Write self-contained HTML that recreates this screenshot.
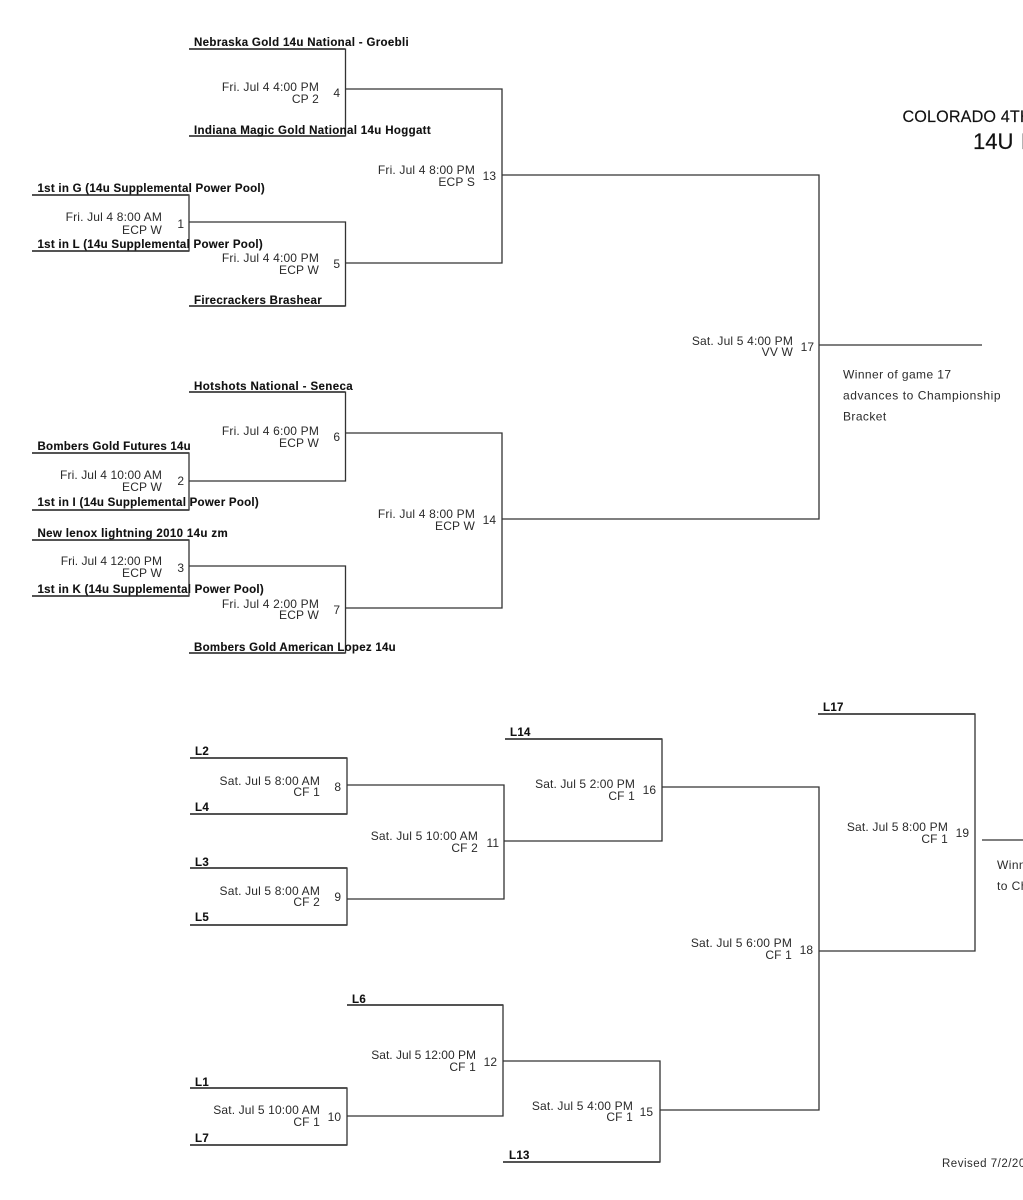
<!DOCTYPE html>
<html><head><meta charset="utf-8"><style>
html,body{margin:0;padding:0;background:#fff;width:1023px;height:1200px;overflow:hidden}
svg{display:block}
text{font-family:"Liberation Sans",sans-serif;fill:#2a2a2a}
.l{fill:none;stroke:#333;stroke-width:1.3}
.b{fill:none;stroke:#444;stroke-width:1.8}
.t{font-weight:bold;font-size:11.5px;fill:#111;letter-spacing:.3px;stroke:#111;stroke-width:.12px}
.s{font-size:12px;letter-spacing:.17px;text-anchor:end}
.n{font-size:12px;text-anchor:end}
.w{font-size:12px;letter-spacing:.42px}
</style></head><body>
<svg width="1023" height="1200" viewBox="0 0 1023 1200" xmlns="http://www.w3.org/2000/svg">
<g class="l">
<path d="M189 49H345.5V136H189"/>
<path d="M345.5 89H502V263H345.5"/>
<path d="M32 195H189V251H32"/>
<path d="M189 222H345.5V306H189"/>
<path d="M502 175H819V519H502"/>
<path d="M189 392H345.5V481H189"/>
<path d="M345.5 433H502V608H345.5"/>
<path d="M32 453H189V510H32"/>
<path d="M32 540H189V596H32"/>
<path d="M189 566H345.5V653H189"/>
<path d="M819 345H982"/>
<path d="M190 758H347V814H190"/>
<path d="M347 785H504V899H347"/>
<path d="M190 868H347V925H190"/>
<path d="M504 841H662V739H505"/>
<path d="M662 787H819V1110H660"/>
<path d="M819 951H975V714H818"/>
<path d="M982 840H1023"/>
<path d="M347 1005H503V1116H347"/>
<path d="M190 1088H347V1145H190"/>
<path d="M503 1061H660V1162H503"/>
</g>
<g class="b">
<path d="M189 49H345M189 136H345M32 195H189M32 251H189M189 306H345M189 392H345M32 453H189M32 510H189M32 540H189M32 596H189M189 653H345"/>
<path d="M190 758H347M190 814H347M190 868H347M190 925H347M505 739H662M818 714H975M347 1005H503M190 1088H347M190 1145H347M503 1162H660"/>
</g>
<g>
<text class="t" x="194" y="46" textLength="215">Nebraska Gold 14u National - Groebli</text>
<text class="t" x="194" y="134" textLength="237">Indiana Magic Gold National 14u Hoggatt</text>
<text class="t" x="37.5" y="192" textLength="227.5">1st in G (14u Supplemental Power Pool)</text>
<text class="t" x="37.5" y="248" textLength="225.5">1st in L (14u Supplemental Power Pool)</text>
<text class="t" x="194" y="304" textLength="128">Firecrackers Brashear</text>
<text class="t" x="194" y="390" textLength="159">Hotshots National - Seneca</text>
<text class="t" x="37.5" y="450" textLength="153.5">Bombers Gold Futures 14u</text>
<text class="t" x="37.5" y="506" textLength="221.5">1st in I (14u Supplemental Power Pool)</text>
<text class="t" x="37.5" y="537" textLength="190.5">New lenox lightning 2010 14u zm</text>
<text class="t" x="37.5" y="593" textLength="226.5">1st in K (14u Supplemental Power Pool)</text>
<text class="t" x="194" y="651" textLength="202">Bombers Gold American Lopez 14u</text>
<text class="t" x="195" y="755">L2</text>
<text class="t" x="195" y="811">L4</text>
<text class="t" x="195" y="866">L3</text>
<text class="t" x="195" y="921">L5</text>
<text class="t" x="510" y="736">L14</text>
<text class="t" x="823" y="711">L17</text>
<text class="t" x="352" y="1003">L6</text>
<text class="t" x="195" y="1086">L1</text>
<text class="t" x="195" y="1142">L7</text>
<text class="t" x="509" y="1159">L13</text>
</g>
<g>
<text class="s" x="319" y="91">Fri. Jul 4 4:00 PM</text><text class="s" x="319" y="103">CP 2</text><text class="n" x="340" y="97">4</text>
<text class="s" x="475" y="174">Fri. Jul 4 8:00 PM</text><text class="s" x="475" y="186">ECP S</text><text class="n" x="496" y="180">13</text>
<text class="s" x="162" y="221">Fri. Jul 4 8:00 AM</text><text class="s" x="162" y="234">ECP W</text><text class="n" x="184" y="228">1</text>
<text class="s" x="319" y="262">Fri. Jul 4 4:00 PM</text><text class="s" x="319" y="274">ECP W</text><text class="n" x="340" y="268">5</text>
<text class="s" x="319" y="435">Fri. Jul 4 6:00 PM</text><text class="s" x="319" y="447">ECP W</text><text class="n" x="340" y="441">6</text>
<text class="s" x="162" y="479" style="letter-spacing:.1px">Fri. Jul 4 10:00 AM</text><text class="s" x="162" y="491">ECP W</text><text class="n" x="184" y="485">2</text>
<text class="s" x="475" y="518">Fri. Jul 4 8:00 PM</text><text class="s" x="475" y="530">ECP W</text><text class="n" x="496" y="524">14</text>
<text class="s" x="162" y="565" style="letter-spacing:.03px">Fri. Jul 4 12:00 PM</text><text class="s" x="162" y="577">ECP W</text><text class="n" x="184" y="572">3</text>
<text class="s" x="319" y="608">Fri. Jul 4 2:00 PM</text><text class="s" x="319" y="619">ECP W</text><text class="n" x="340" y="614">7</text>
<text class="s" x="793" y="345">Sat. Jul 5 4:00 PM</text><text class="s" x="793" y="356">VV W</text><text class="n" x="814" y="351">17</text>
<text class="s" x="320" y="785">Sat. Jul 5 8:00 AM</text><text class="s" x="320" y="796">CF 1</text><text class="n" x="341" y="791">8</text>
<text class="s" x="320" y="895">Sat. Jul 5 8:00 AM</text><text class="s" x="320" y="906">CF 2</text><text class="n" x="341" y="901">9</text>
<text class="s" x="478" y="840">Sat. Jul 5 10:00 AM</text><text class="s" x="478" y="852">CF 2</text><text class="n" x="499" y="847">11</text>
<text class="s" x="635" y="788" style="letter-spacing:.1px">Sat. Jul 5 2:00 PM</text><text class="s" x="635" y="800">CF 1</text><text class="n" x="656" y="794">16</text>
<text class="s" x="792" y="947">Sat. Jul 5 6:00 PM</text><text class="s" x="792" y="959">CF 1</text><text class="n" x="813" y="954">18</text>
<text class="s" x="948" y="831">Sat. Jul 5 8:00 PM</text><text class="s" x="948" y="843">CF 1</text><text class="n" x="969" y="837">19</text>
<text class="s" x="476" y="1059" style="letter-spacing:0">Sat. Jul 5 12:00 PM</text><text class="s" x="476" y="1071">CF 1</text><text class="n" x="497" y="1066">12</text>
<text class="s" x="320" y="1114" style="letter-spacing:.14px">Sat. Jul 5 10:00 AM</text><text class="s" x="320" y="1126">CF 1</text><text class="n" x="341" y="1121">10</text>
<text class="s" x="633" y="1110">Sat. Jul 5 4:00 PM</text><text class="s" x="633" y="1121">CF 1</text><text class="n" x="653" y="1116">15</text>
</g>
<text class="w" x="843" y="378.6" textLength="108.5">Winner of game 17</text>
<text class="w" x="843" y="399.6" textLength="158">advances to Championship</text>
<text class="w" x="843" y="420.6">Bracket</text>
<text class="w" x="997" y="869">Winner</text>
<text class="w" x="997" y="890">to Championship</text>
<text x="942" y="1167" style="font-size:11.5px;letter-spacing:.5px">Revised 7/2/2025</text>
<text x="902.5" y="122" style="font-size:16.2px;letter-spacing:.12px;fill:#111;stroke:#111;stroke-width:.15px">COLORADO 4TH</text>
<text x="973" y="149" style="font-size:22px;word-spacing:1.5px;fill:#111;stroke:#111;stroke-width:.2px">14U B</text>
</svg>
</body></html>
